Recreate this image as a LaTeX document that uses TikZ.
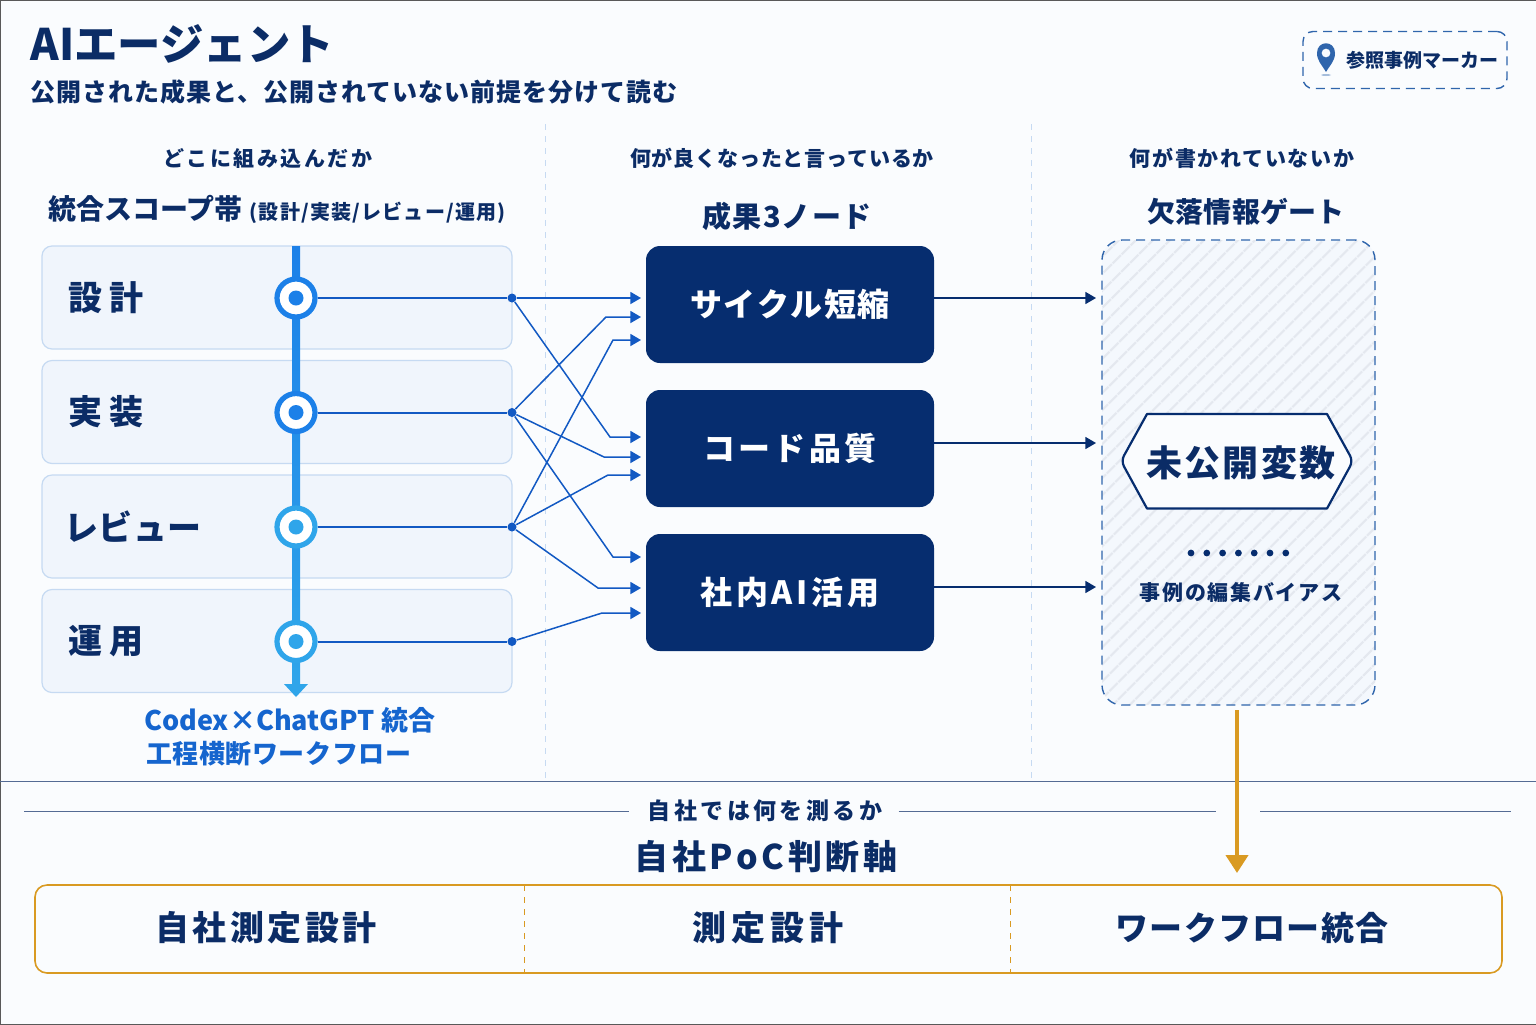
\documentclass[tikz,border=0pt]{standalone}
\usepackage{fontspec}
\setmainfont{Noto Sans CJK JP}
\usetikzlibrary{arrows.meta, positioning, patterns.meta}
\definecolor{navy}{HTML}{0B2C66}
\definecolor{boxnavy}{HTML}{062D6F}
\definecolor{linkblue}{HTML}{1259C3}
\definecolor{railblue}{HTML}{1C80E8}
\definecolor{raillight}{HTML}{2FA5EA}
\definecolor{bandfill}{HTML}{F0F5FC}
\definecolor{bandline}{HTML}{C6DAF2}
\definecolor{gold}{HTML}{D99A22}
\definecolor{gateline}{HTML}{2F65AC}
\newcommand{\jfs}[2]{\fontsize{#1}{#1}\selectfont\addfontfeature{LetterSpace=#2}\bfseries}
\tikzset{>={Triangle[width=6pt,length=5.3pt]}}
\tikzset{
	band/.style = {draw=bandline, fill=bandfill, line width=.6pt, rounded corners=5pt, minimum width=235pt, minimum height=51.5pt, outer sep=0pt},
	bandtxt/.style = {navy, anchor=west, inner sep=0pt},
	ring/.style = {circle, draw=#1, fill=white, line width=2.6pt, minimum size=19pt, inner sep=0pt},
	pip/.style = {circle, fill=#1, minimum size=7.5pt, inner sep=0pt},
	hub/.style = {circle, fill=linkblue, minimum size=4.5pt, inner sep=0pt},
	result/.style = {fill=boxnavy, text=white, rounded corners=7pt, minimum width=144pt, minimum height=58.5pt, outer sep=0pt},
	link/.style = {draw=linkblue, line width=.75pt},
	gateout/.style = {->, draw=boxnavy, line width=.65pt},
	head/.style = {navy, inner sep=0pt},
	cell/.style = {navy, inner sep=0pt},
	divide/.style = {draw=bandline, line width=.5pt, dashed},
	longdash/.style = {dash pattern=on 4.5pt off 3pt},
	rule/.style = {draw=#1, line width=.5pt},
	rule/.default = {navy!70}
}
\begin{document}
\begin{tikzpicture}[x=.5pt, y=-.5pt, on grid, node distance=57.25pt]
	\useasboundingbox (0,0) rectangle (1536,1024);
	\fill[white!70!bandfill] (0,0) rectangle (1536,1024);
	\draw[black!65, line width=.5pt] (0,0) rectangle (1536,1024);

	% title and marker
	\node (ttl) [head, anchor=west] at (30,44) {\jfs{21.7}{0}AIエージェント};
	\node (sub) [head, anchor=west] at (30,92) {\jfs{12.5}{4}公開された成果と、公開されていない前提を分けて読む};
	\node (mrk) [draw=gateline, longdash, line width=.7pt, rounded corners=5pt, minimum width=102pt, minimum height=28.5pt] at (1405,60) {};
	\node (mrt) [head] at (1422,60) {\jfs{9.5}{0}参照事例マーカー};
	\fill[gateline!60, opacity=.7] (1326,75) ellipse (5 and 1);
	\fill[gateline, even odd rule] (1326,72) .. controls (1322,65) and (1317,61) .. (1317,53) .. controls (1317,40) and (1335,40) .. (1335,53) .. controls (1335,61) and (1330,65) .. (1326,72) -- cycle (1326,53) circle[radius=4.5];

	% column dividers
	\coordinate (c1a) at (545,124);
	\coordinate (c1b) at (545,778);
	\coordinate (c2a) at (1031,124);
	\coordinate (c2b) at (1031,778);
	\path[divide] (c1a) edge (c1b) (c2a) edge (c2b);

	% left column
	\node (h1) [head] at (268,158) {\jfs{10.5}{12}どこに組み込んだか};
	\node (h1b) [head, anchor=west] at (48,209) {\jfs{14}{0}統合スコープ帯\hspace{3.5pt}\jfs{10}{6}(設計/実装/レビュー/運用)};
	\node (des) [band] at (277,297.5) {};
	\node (imp) [band, below=of des] {};
	\node (rev) [band, below=of imp] {};
	\node (ops) [band, below=of rev] {};
	\node [bandtxt] at ([xshift=13pt]des.west) {\jfs{17}{22}設計};
	\node [bandtxt] at ([xshift=13pt]imp.west) {\jfs{17}{22}実装};
	\node [bandtxt] at ([xshift=11pt]rev.west) {\jfs{17}{1}レビュー};
	\node [bandtxt] at ([xshift=13pt]ops.west) {\jfs{17}{22}運用};
	\shade[top color=railblue, bottom color=raillight] (292,246) rectangle (300,685);
	\fill[raillight] (284,684) -- (308,684) -- (296,697) -- cycle;
	\foreach \n/\b/\c in {1/des/railblue, 2/imp/railblue, 3/rev/raillight, 4/ops/raillight}{
		\node (r\n) [ring=\c] at (296,298+114.5*\n-114.5) {};
		\node (p\n) [pip=\c] at (r\n) {};
		\node (d\n) [hub] at (512,298+114.5*\n-114.5) {};
		\path[link, line width=1pt] (r\n) edge (d\n);
	}
	\node (cdx) [head, text=linkblue!70!railblue, anchor=west] at (144,720) {\jfs{13.5}{0}Codex×ChatGPT 統合};
	\node (flw) [head, text=linkblue!70!railblue, anchor=west] at (146,754) {\jfs{13}{2}工程横断ワークフロー};

	% middle column
	\node (h2) [head] at (782,158) {\jfs{10.5}{4}何が良くなったと言っているか};
	\node (h2b) [head] at (787,216) {\jfs{14.5}{4}成果3ノード};
	\node (cyc) [result] at (790,304.5) {\jfs{16}{6}サイクル短縮};
	\node (qua) [result, below=72pt of cyc] {\jfs{16}{10}コード品質};
	\node (app) [result, below=72pt of qua] {\jfs{16}{12}社内AI活用};

	% ends of the branches
	\foreach \n/\y in {a/298, b/317, c/340, e/437, f/457, g/475, h/557, i/588, j/613}
		\coordinate (t\n) at (641,\y);
	\foreach \from/\bx/\by/\to in {1/610/437/e, 2/606/317/b, 2/604/457/f, 2/613/557/h, 3/613/340/c, 3/608/475/g, 3/598/588/i, 4/602/613/j}
		\draw[link, ->] (d\from) -- (\bx,\by) -- (t\to);
	\draw[link, ->] (d1) -- (ta);

	% right column
	\node (h3) [head] at (1242,158) {\jfs{10.5}{8}何が書かれていないか};
	\node (h3b) [head] at (1246,212) {\jfs{14}{1}欠落情報ゲート};
	\node (gat) [draw=gateline, longdash, line width=.7pt, rounded corners=10pt, minimum width=136.5pt, minimum height=232.5pt, outer sep=0pt,
		preaction={fill=bandfill!70!white}, pattern={Lines[angle=45, distance=6.5pt, line width=1.3pt]}, pattern color=boxnavy!11] at (1238.5,472.5) {};
	\draw[draw=boxnavy, fill=white!70!bandfill, line width=1.1pt, line join=round] (1147,414) -- (1327,414) [rounded corners=3pt] -- (1353,461) [sharp corners] -- (1327,508.5) -- (1147,508.5) [rounded corners=3pt] -- (1121,461) [sharp corners] -- cycle;
	\node (var) [cell] at (1241,463) {\jfs{18}{6}未公開変数};
	\foreach \i in {0,...,6}
		\fill[boxnavy] (1191+15.8*\i,553) circle[radius=3.4];
	\node (bia) [cell] at (1241,593) {\jfs{10.5}{8}事例の編集バイアス};
	\coordinate (g1) at (1096,298);
	\coordinate (g2) at (1096,443);
	\coordinate (g3) at (1096,587);
	\draw[gateout] (cyc.east |- g1) -- (g1);
	\draw[gateout] (qua.east |- g2) -- (g2);
	\draw[gateout] (app.east |- g3) -- (g3);

	% bottom part
	\coordinate (w0) at (0,781);
	\coordinate (w1) at (1536,781);
	\path[rule] (w0) edge (w1);
	\node (h4) [head] at (765,811) {\jfs{11.5}{15}自社では何を測るか};
	\node (h4b) [head] at (766,857) {\jfs{17}{11}自社PoC判断軸};
	\coordinate (l0) at (24,811);
	\coordinate (l1) at (1216,811);
	\coordinate (l2) at (1260,811);
	\coordinate (l3) at (1511,811);
	\path[rule] (l0) edge ([xshift=-9pt]h4.west |- l0) ([xshift=8pt]h4.east |- l0) edge (l1) (l2) edge (l3);
	\node (axs) [draw=gold, line width=.8pt, rounded corners=6pt, minimum width=733.5pt, minimum height=44pt, outer sep=0pt] at (768.5,929) {};
	\draw[gold, dashed, line width=.5pt] (524,885) -- (524,973);
	\draw[gold, dashed, line width=.5pt] (1010,885) -- (1010,973);
	\node (ax1) [cell] at (266,928) {\jfs{17}{10}自社測定設計};
	\node (ax2) [cell] at (768,928) {\jfs{17}{14}測定設計};
	\node (ax3) [cell] at (1252,928) {\jfs{16.5}{4}ワークフロー統合};
	\coordinate (g0) at (1237,710);
	\coordinate (ax) at (1237,873);
	\draw[-{Triangle[width=11pt,length=9pt]}, gold, line width=2pt] (g0) -- (ax);
\end{tikzpicture}
\end{document}
